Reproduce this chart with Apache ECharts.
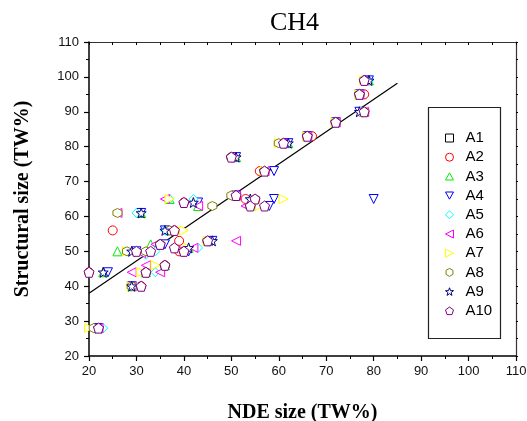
<!DOCTYPE html>
<html><head><meta charset="utf-8">
<script src="https://cdn.jsdelivr.net/npm/echarts@6/dist/echarts.min.js"></script>
<style>html,body{margin:0;padding:0;background:#fff}#c{width:527px;height:421px}</style>
</head><body><div id="c"></div>
<script>
var seriesNames = ['A1','A2','A3','A4','A5','A6','A7','A8','A9','A10'];
var seriesColors = ['#000000','#ff0000','#00ee00','#0000ff','#00ffff','#ff00ff','#ffff00','#808000','#000080','#800080'];
var xTicks = [20,30,40,50,60,70,80,90,100,110];
var yTicks = [20,30,40,50,60,70,80,90,100,110];

var a1 = [[78,99],[77,95],[78,90],[72,87],[66,83],[61,81],[50,77],[57,73],[51,66],[55,65],[54,63],[57,63],[40,64],[38,56],[45,53],[35,52],[30,50],[33,50],[38,51],[40,50],[20,44],[32,44],[36,46],[31,40],[22,28]];
var a2 = [[78,99],[78,95],[78,90],[72,87],[67,83],[61,81],[50,77],[56,73],[51,66],[53,65],[54,63],[40,64],[25,56],[38,56],[39,53],[45,53],[35,52],[39,50],[40,50],[20,44],[32,44],[36,46],[31,40],[22,28]];
var a3 = [[79,99],[77,95],[78,90],[72,87],[66,83],[62,81],[51,77],[57,73],[51,66],[55,65],[43,63],[37,65],[31,61],[37,56],[45,53],[33,52],[26,50],[41,51],[23,44],[32,44],[36,46],[29,40],[22,28]];
var a4 = [[79,99],[77,95],[77,90],[72,87],[66,83],[62,81],[51,77],[59,73],[51,66],[59,65],[58,63],[80,65],[43,64],[36,52],[41,50],[24,44],[31,61],[36,56],[46,53],[30,50],[29,40],[22,28]];
var a5 = [[79,99],[77,95],[78,90],[72,87],[66,83],[61,81],[50,77],[57,73],[51,66],[55,63],[42,65],[37,65],[30,61],[36,56],[45,53],[34,50],[32,49],[43,51],[34,44],[30,40],[23,28]];
var a6 = [[78,99],[77,95],[78,90],[72,87],[66,83],[61,81],[50,77],[57,73],[51,66],[53,63],[43,63],[36,65],[26,61],[37,56],[51,53],[34,52],[31,49.5],[42,51],[29,44],[35,44],[32,46],[29,40],[22,28]];
var a7 = [[78,99],[77,95],[78,90],[72,87],[66,83],[60,81],[51,77],[57,73],[51,66],[61,65],[56,63],[37,65],[40,56],[45,53],[33,50],[28,50],[31,44],[34,46],[29,40],[20,28],[41,51]];
var a8 = [[78,99],[77,95],[78,90],[72,87],[66,83],[60,81],[50,77],[57,73],[50,66],[55,65],[54,63],[46,63],[26,61],[37,56],[45,53],[35,52],[28,50],[32,50],[40,50],[32,44],[36,46],[29,40],[21,28]];
var a9 = [[79,99],[77,95],[77,90],[72,87],[66,83],[62,81],[51,77],[57,73],[51,66],[54,65],[42,64],[31,61],[36,56],[46,53],[35,52],[29,50],[41,51],[23,44],[29,40],[22,28]];
var a10 = [[78,99],[77,95],[78,90],[72,87],[66,83],[61,81],[50,77],[57,73],[51,66],[55,65],[54,63],[57,63],[40,64],[38,56],[45,53],[35,52],[30,50],[33,50],[38,51],[40,50],[20,44],[32,44],[36,46],[31,40],[22,28]];
var fitX = [20, 85];
var fitY = [38, 98.2];

var allData = [a1,a2,a3,a4,a5,a6,a7,a8,a9,a10];
var symbols = [
  'rect',
  'circle',
  'path://M5,0 L10,9 L0,9 Z',
  'path://M0,0 L10,0 L5,9 Z',
  'path://M5,0 L10,5 L5,10 L0,5 Z',
  'path://M10,0 L10,10 L0,5 Z',
  'path://M0,0 L0,10 L10,5 Z',
  'path://M8.66,0 L17.32,5 L17.32,15 L8.66,20 L0,15 L0,5 Z',
  'path://M10,0 L12.35,6.76 L19.51,6.91 L13.8,11.24 L15.88,18.09 L10,14 L4.12,18.09 L6.2,11.24 L0.49,6.91 L7.65,6.76 Z',
  'path://M10,0 L19.51,6.91 L15.88,18.09 L4.12,18.09 L0.49,6.91 Z'
];
var sizes = [5.5,9,9,9,9,9,9,9,10,10];

var series = seriesNames.map(function(n,i){
  return {
    name: n, type: 'scatter', data: allData[i],
    symbol: symbols[i], symbolSize: sizes[i],
    itemStyle: {color: '#ffffff', borderColor: seriesColors[i], borderWidth: 1, opacity: 1},
    emphasis: {disabled: true}, z: 2 + i
  };
});
series.push({
  name: 'fit', type: 'line', data: fitX.map(function(x,i){return [x, fitY[i]];}),
  symbol: 'none', lineStyle: {color: '#000', width: 1.2}, z: 1, silent: true
});

var chart = echarts.init(document.getElementById('c'), null, {renderer: 'canvas'});
var axisFont = {fontFamily: 'Liberation Sans, Arial, sans-serif', fontSize: 13, color: '#111'};
chart.setOption({
  animation: false,
  backgroundColor: '#fff',
  title: {text: 'CH4', left: 265, top: 5, textStyle: {fontFamily: 'Liberation Serif, Times New Roman, serif', fontWeight: 'normal', fontSize: 26, color: '#000'}},
  grid: {left: 89, right: 11, top: 42, bottom: 65, containLabel: false, outerBoundsMode: 'none'},
  legend: {
    orient: 'vertical', left: 440, top: 124, data: seriesNames,
    itemWidth: 8, itemHeight: 8, itemGap: 1.2,
    itemStyle: {borderWidth: 1, color: '#ffffff'},
    textStyle: {fontFamily: 'Liberation Sans, Arial, sans-serif', fontSize: 15, color: '#000', lineHeight: 18, padding: [0,0,0,7]}
  },
  xAxis: [{
    type: 'value', min: 20, max: 110, interval: 10, position: 'bottom',
    name: 'NDE size (TW%)', nameLocation: 'middle', nameGap: 47,
    nameTextStyle: {fontFamily: 'Liberation Serif, Times New Roman, serif', fontWeight: 'bold', fontSize: 20, color: '#000'},
    axisLine: {lineStyle: {color: '#000', width: 1.5}},
    axisTick: {show: true, inside: false, length: 5, lineStyle: {color: '#000', width: 1.2}},
    minorTick: {show: true, splitNumber: 2, length: 3, lineStyle: {color: '#000', width: 1}},
    splitLine: {show: false},
    axisLabel: Object.assign({margin: 9, customValues: xTicks}, axisFont)
  },{
    type: 'value', min: 20, max: 110, interval: 10, position: 'top',
    axisLine: {lineStyle: {color: '#333', width: 1.2}},
    axisTick: {show: true, inside: true, length: 3, lineStyle: {color: '#000'}},
    minorTick: {show: true, splitNumber: 2, length: 3, lineStyle: {color: '#000'}},
    axisLabel: {show: false}, splitLine: {show: false}
  }],
  yAxis: [{
    type: 'value', min: 20, max: 110, interval: 10, position: 'left',
    name: 'Structural size (TW%)', nameLocation: 'middle', nameGap: 56,
    nameTextStyle: {fontFamily: 'Liberation Serif, Times New Roman, serif', fontWeight: 'bold', fontSize: 20, color: '#000'},
    axisLine: {show: true, lineStyle: {color: '#000', width: 1.5}},
    axisTick: {show: true, inside: false, length: 5, lineStyle: {color: '#000', width: 1.2}},
    minorTick: {show: true, splitNumber: 2, length: 3, lineStyle: {color: '#000', width: 1}},
    splitLine: {show: false},
    axisLabel: Object.assign({margin: 10, customValues: yTicks}, axisFont)
  },{
    type: 'value', min: 20, max: 110, interval: 10, position: 'right',
    axisLine: {show: true, lineStyle: {color: '#333', width: 1.2}},
    axisTick: {show: true, inside: false, length: 2, lineStyle: {color: '#000'}},
    minorTick: {show: true, splitNumber: 2, length: 2, lineStyle: {color: '#000'}},
    axisLabel: {show: false}, splitLine: {show: false}
  }],
  graphic: [{
    type: 'rect', left: 426, top: 105, shape: {width: 72, height: 231},
    style: {fill: 'none', stroke: '#222', lineWidth: 1.2}, z: 100
  }],
  series: series
});
</script></body></html>
